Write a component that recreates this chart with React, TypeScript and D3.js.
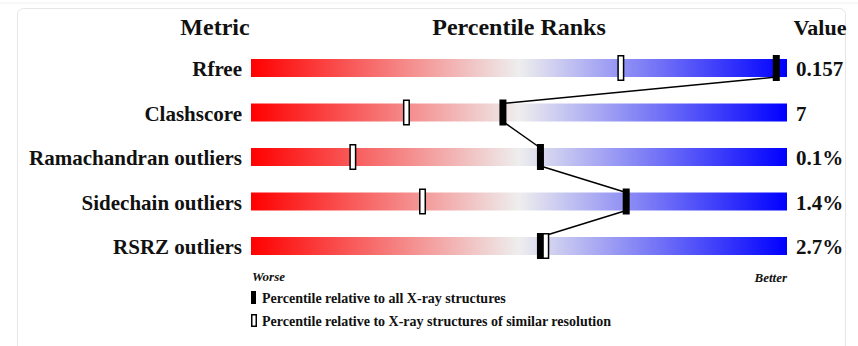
import React from "react";
import * as d3 from "d3";

const metrics = ["Rfree", "Clashscore", "Ramachandran outliers", "Sidechain outliers", "RSRZ outliers"];
const values = ["0.157", "7", "0.1%", "1.4%", "2.7%"];
const pctAll = [98, 47, 54, 70, 54];
const pctSimilar = [69, 29, 19, 32, 55];
const legendLabels = ["Percentile relative to all X-ray structures", "Percentile relative to X-ray structures of similar resolution"];

const W = 858;
const H = 346;
const FONT = "'Liberation Serif', 'Times New Roman', 'DejaVu Serif', serif";

export default function App() {
  const x = d3.scaleLinear().domain([0, 100]).range([251, 787]);
  const y = d3.scalePoint<string>().domain(metrics).range([68, 246]);
  const barH = 18;
  const mW = 7;
  const mH = 26;

  const linePts: [number, number][] = [];
  metrics.forEach((m, i) => {
    const cy = y(m)!;
    if (i > 0) linePts.push([x(pctAll[i]), cy - barH / 2]);
    if (i < metrics.length - 1) linePts.push([x(pctAll[i]), cy + barH / 2]);
  });
  const segs: [number, number][][] = [];
  for (let i = 0; i < linePts.length; i += 2) segs.push([linePts[i], linePts[i + 1]]);
  const line = d3.line();

  return (
    <svg width={W} height={H} style={{ position: "absolute", left: 0, top: 0 }} fontFamily={FONT}>
      <defs>
        <linearGradient id="grad" x1="0" x2="1" y1="0" y2="0">
          <stop offset="0" stopColor="#ff0000" />
          <stop offset="0.5" stopColor="#eeeeee" />
          <stop offset="1" stopColor="#0000ff" />
        </linearGradient>
      </defs>
      <rect x={0} y={0} width={W} height={H} fill="#ffffff" />
      <line x1={0} x2={W} y1={3} y2={3} stroke="#f0f0f0" strokeWidth={1} />
      <rect x={17.5} y={8.5} width={828} height={360} rx={6} fill="#ffffff" stroke="#e6e6e6" strokeWidth={1} />

      <text x={215} y={35} textAnchor="middle" fontWeight="bold" fontSize={24} fill="#111">Metric</text>
      <text x={519} y={35} textAnchor="middle" fontWeight="bold" fontSize={24} fill="#111">Percentile Ranks</text>
      <text x={820} y={35} textAnchor="middle" fontWeight="bold" fontSize={22} fill="#111">Value</text>

      {metrics.map((m, i) => {
        const cy = y(m)!;
        return (
          <g key={m}>
            <rect x={x(0)} y={cy - barH / 2} width={x(100) - x(0)} height={barH} fill="url(#grad)" />
            <text x={242} y={cy + 8} textAnchor="end" fontWeight="bold" fontSize={21} fill="#111">{m}</text>
            <text x={796} y={cy + 8} fontWeight="bold" fontSize={21} fill="#111">{values[i]}</text>
          </g>
        );
      })}

      {segs.map((s, i) => (
        <path key={i} d={line(s)!} stroke="#000" strokeWidth={1.5} fill="none" />
      ))}

      {metrics.map((m, i) => {
        const cy = y(m)!;
        return (
          <g key={m + "mk"}>
            <rect x={x(pctAll[i]) - mW / 2} y={cy - mH / 2} width={mW} height={mH} fill="#000" />
            <rect x={x(pctSimilar[i]) - mW / 2 + 0.75} y={cy - mH / 2 + 0.75} width={mW - 1.5} height={mH - 1.5} fill="#fff" stroke="#000" strokeWidth={1.5} />
          </g>
        );
      })}

      <text x={x(0) + 1} y={281} fontStyle="italic" fontWeight="bold" fontSize={13} fill="#111">Worse</text>
      <text x={x(100)} y={282} textAnchor="end" fontStyle="italic" fontWeight="bold" fontSize={13} fill="#111">Better</text>

      <rect x={251} y={291} width={5} height={13} fill="#000" />
      <text x={262} y={303} fontWeight="bold" fontSize={14} fill="#111">{legendLabels[0]}</text>
      <rect x={251.75} y={314.75} width={4.5} height={11.5} fill="#fff" stroke="#000" strokeWidth={1.5} />
      <text x={262} y={326} fontWeight="bold" fontSize={14} fill="#111">{legendLabels[1]}</text>
    </svg>
  );
}
